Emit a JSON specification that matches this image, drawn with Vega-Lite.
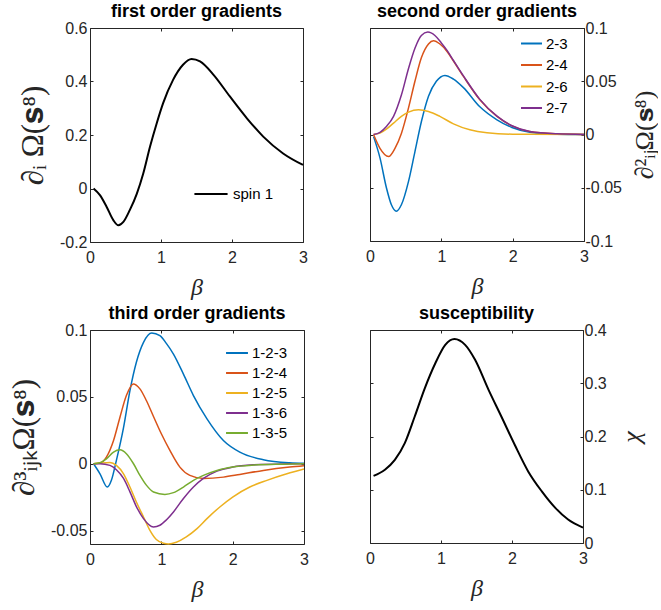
{
  "$schema": "https://vega.github.io/schema/vega-lite/v6.json",
  "padding": {"left": 8, "top": 2, "right": 0, "bottom": 0},
  "columns": 2,
  "align": "each",
  "spacing": {"row": 4, "column": 56},
  "resolve": {"scale": {"color": "independent"}, "legend": {"color": "independent"}},
  "config": {
    "view": {"stroke": "#262626", "strokeWidth": 1},
    "font": "Liberation Sans",
    "title": {"font": "Liberation Sans", "fontSize": 18, "fontWeight": "bold", "color": "#000000", "baseline": "alphabetic", "offset": -1},
    "axis": {"domain": false, "grid": false, "tickSize": -3, "tickColor": "#262626", "labelFont": "Liberation Sans", "labelFontSize": 16, "labelColor": "#262626", "labelPadding": 6, "labelFlush": false, "labelOverlap": false, "titleFont": "Liberation Serif", "titleFontWeight": "normal", "titleFontSize": 31, "titleColor": "#262626", "titlePadding": 10},
    "axisX": {"labelPadding": 10, "titleFontSize": 24},
    "legend": {"labelFont": "Liberation Sans", "labelFontSize": 15, "labelColor": "#000000", "symbolType": "stroke", "symbolStrokeWidth": 2, "rowPadding": 1.5, "labelOffset": 3, "padding": 0}
  },
  "datasets": {
    "p1": [
      {"b": 0.05, "v": 0, "s": "spin 1"}, {"b": 0.14, "v": -0.025, "s": "spin 1"}, {"b": 0.235, "v": -0.069, "s": "spin 1"}, {"b": 0.33, "v": -0.119, "s": "spin 1"}, {"b": 0.4, "v": -0.1375, "s": "spin 1"}, {"b": 0.47, "v": -0.125, "s": "spin 1"}, {"b": 0.56, "v": -0.081, "s": "spin 1"}, {"b": 0.66, "v": -0.019, "s": "spin 1"}, {"b": 0.75, "v": 0.056, "s": "spin 1"}, {"b": 0.845, "v": 0.156, "s": "spin 1"}, {"b": 0.94, "v": 0.244, "s": "spin 1"}, {"b": 1.03, "v": 0.319, "s": "spin 1"}, {"b": 1.17, "v": 0.406, "s": "spin 1"}, {"b": 1.31, "v": 0.4625, "s": "spin 1"}, {"b": 1.43, "v": 0.484, "s": "spin 1"}, {"b": 1.55, "v": 0.475, "s": "spin 1"}, {"b": 1.74, "v": 0.425, "s": "spin 1"}, {"b": 1.97, "v": 0.344, "s": "spin 1"}, {"b": 2.21, "v": 0.2625, "s": "spin 1"}, {"b": 2.44, "v": 0.194, "s": "spin 1"}, {"b": 2.72, "v": 0.131, "s": "spin 1"}, {"b": 3.0, "v": 0.088, "s": "spin 1"}
    ],
    "p2": [
      {"b": 0.05, "v": -0.002, "s": "2-3"}, {"b": 0.14, "v": -0.022, "s": "2-3"}, {"b": 0.23, "v": -0.05, "s": "2-3"}, {"b": 0.3, "v": -0.066, "s": "2-3"}, {"b": 0.37, "v": -0.072, "s": "2-3"}, {"b": 0.44, "v": -0.066, "s": "2-3"}, {"b": 0.54, "v": -0.044, "s": "2-3"}, {"b": 0.63, "v": -0.016, "s": "2-3"}, {"b": 0.72, "v": 0.012, "s": "2-3"}, {"b": 0.82, "v": 0.036, "s": "2-3"}, {"b": 0.93, "v": 0.05, "s": "2-3"}, {"b": 1.05, "v": 0.0555, "s": "2-3"}, {"b": 1.17, "v": 0.052, "s": "2-3"}, {"b": 1.31, "v": 0.044, "s": "2-3"}, {"b": 1.54, "v": 0.026, "s": "2-3"}, {"b": 1.78, "v": 0.0138, "s": "2-3"}, {"b": 1.99, "v": 0.0066, "s": "2-3"}, {"b": 2.24, "v": 0.0022, "s": "2-3"}, {"b": 2.62, "v": 0.0003, "s": "2-3"}, {"b": 3.0, "v": 0, "s": "2-3"},
      {"b": 0.05, "v": 0, "s": "2-4"}, {"b": 0.14, "v": -0.013, "s": "2-4"}, {"b": 0.26, "v": -0.0207, "s": "2-4"}, {"b": 0.35, "v": -0.013, "s": "2-4"}, {"b": 0.44, "v": 0.001, "s": "2-4"}, {"b": 0.54, "v": 0.025, "s": "2-4"}, {"b": 0.63, "v": 0.05, "s": "2-4"}, {"b": 0.72, "v": 0.072, "s": "2-4"}, {"b": 0.82, "v": 0.085, "s": "2-4"}, {"b": 0.89, "v": 0.088, "s": "2-4"}, {"b": 0.98, "v": 0.085, "s": "2-4"}, {"b": 1.08, "v": 0.078, "s": "2-4"}, {"b": 1.17, "v": 0.069, "s": "2-4"}, {"b": 1.31, "v": 0.0545, "s": "2-4"}, {"b": 1.54, "v": 0.0326, "s": "2-4"}, {"b": 1.78, "v": 0.017, "s": "2-4"}, {"b": 1.99, "v": 0.0081, "s": "2-4"}, {"b": 2.24, "v": 0.0028, "s": "2-4"}, {"b": 2.62, "v": 0.0006, "s": "2-4"}, {"b": 3.0, "v": 0, "s": "2-4"},
      {"b": 0.05, "v": 0, "s": "2-6"}, {"b": 0.14, "v": 0.0013, "s": "2-6"}, {"b": 0.23, "v": 0.005, "s": "2-6"}, {"b": 0.33, "v": 0.0107, "s": "2-6"}, {"b": 0.44, "v": 0.017, "s": "2-6"}, {"b": 0.54, "v": 0.021, "s": "2-6"}, {"b": 0.68, "v": 0.0232, "s": "2-6"}, {"b": 0.82, "v": 0.0216, "s": "2-6"}, {"b": 0.98, "v": 0.017, "s": "2-6"}, {"b": 1.17, "v": 0.01, "s": "2-6"}, {"b": 1.4, "v": 0.0044, "s": "2-6"}, {"b": 1.64, "v": 0.0016, "s": "2-6"}, {"b": 2.0, "v": 0.0003, "s": "2-6"}, {"b": 3.0, "v": 0, "s": "2-6"},
      {"b": 0.05, "v": 0, "s": "2-7"}, {"b": 0.14, "v": 0.002, "s": "2-7"}, {"b": 0.23, "v": 0.0075, "s": "2-7"}, {"b": 0.33, "v": 0.017, "s": "2-7"}, {"b": 0.44, "v": 0.037, "s": "2-7"}, {"b": 0.54, "v": 0.062, "s": "2-7"}, {"b": 0.63, "v": 0.081, "s": "2-7"}, {"b": 0.72, "v": 0.093, "s": "2-7"}, {"b": 0.81, "v": 0.0962, "s": "2-7"}, {"b": 0.91, "v": 0.093, "s": "2-7"}, {"b": 1.0, "v": 0.086, "s": "2-7"}, {"b": 1.08, "v": 0.079, "s": "2-7"}, {"b": 1.17, "v": 0.0695, "s": "2-7"}, {"b": 1.31, "v": 0.055, "s": "2-7"}, {"b": 1.54, "v": 0.033, "s": "2-7"}, {"b": 1.78, "v": 0.0172, "s": "2-7"}, {"b": 1.99, "v": 0.0082, "s": "2-7"}, {"b": 2.24, "v": 0.0028, "s": "2-7"}, {"b": 2.62, "v": 0.0006, "s": "2-7"}, {"b": 3.0, "v": 0, "s": "2-7"}
    ],
    "p3": [
      {"b": 0.05, "v": 0, "s": "1-2-3"}, {"b": 0.14, "v": -0.0075, "s": "1-2-3"}, {"b": 0.243, "v": -0.0174, "s": "1-2-3"}, {"b": 0.3, "v": -0.0124, "s": "1-2-3"}, {"b": 0.37, "v": 0.0025, "s": "1-2-3"}, {"b": 0.47, "v": 0.027, "s": "1-2-3"}, {"b": 0.56, "v": 0.0547, "s": "1-2-3"}, {"b": 0.65, "v": 0.0759, "s": "1-2-3"}, {"b": 0.75, "v": 0.0908, "s": "1-2-3"}, {"b": 0.865, "v": 0.0978, "s": "1-2-3"}, {"b": 0.98, "v": 0.0958, "s": "1-2-3"}, {"b": 1.07, "v": 0.09, "s": "1-2-3"}, {"b": 1.17, "v": 0.082, "s": "1-2-3"}, {"b": 1.31, "v": 0.067, "s": "1-2-3"}, {"b": 1.45, "v": 0.051, "s": "1-2-3"}, {"b": 1.64, "v": 0.0336, "s": "1-2-3"}, {"b": 1.87, "v": 0.0174, "s": "1-2-3"}, {"b": 2.1, "v": 0.0087, "s": "1-2-3"}, {"b": 2.43, "v": 0.003, "s": "1-2-3"}, {"b": 2.8, "v": 0.0007, "s": "1-2-3"}, {"b": 3.0, "v": 0.0003, "s": "1-2-3"},
      {"b": 0.05, "v": 0, "s": "1-2-4"}, {"b": 0.14, "v": 0.0005, "s": "1-2-4"}, {"b": 0.23, "v": 0.005, "s": "1-2-4"}, {"b": 0.33, "v": 0.0174, "s": "1-2-4"}, {"b": 0.42, "v": 0.0348, "s": "1-2-4"}, {"b": 0.51, "v": 0.051, "s": "1-2-4"}, {"b": 0.607, "v": 0.0597, "s": "1-2-4"}, {"b": 0.7, "v": 0.056, "s": "1-2-4"}, {"b": 0.79, "v": 0.0473, "s": "1-2-4"}, {"b": 0.89, "v": 0.0353, "s": "1-2-4"}, {"b": 1.0, "v": 0.0224, "s": "1-2-4"}, {"b": 1.12, "v": 0.01, "s": "1-2-4"}, {"b": 1.26, "v": -0.0025, "s": "1-2-4"}, {"b": 1.4, "v": -0.0087, "s": "1-2-4"}, {"b": 1.59, "v": -0.011, "s": "1-2-4"}, {"b": 1.87, "v": -0.01, "s": "1-2-4"}, {"b": 2.1, "v": -0.008, "s": "1-2-4"}, {"b": 2.43, "v": -0.005, "s": "1-2-4"}, {"b": 2.8, "v": -0.0025, "s": "1-2-4"}, {"b": 3.0, "v": -0.0015, "s": "1-2-4"},
      {"b": 0.05, "v": 0, "s": "1-2-5"}, {"b": 0.14, "v": 0.0005, "s": "1-2-5"}, {"b": 0.28, "v": 0.001, "s": "1-2-5"}, {"b": 0.37, "v": -0.0012, "s": "1-2-5"}, {"b": 0.47, "v": -0.0075, "s": "1-2-5"}, {"b": 0.56, "v": -0.0174, "s": "1-2-5"}, {"b": 0.65, "v": -0.0286, "s": "1-2-5"}, {"b": 0.75, "v": -0.0398, "s": "1-2-5"}, {"b": 0.84, "v": -0.0498, "s": "1-2-5"}, {"b": 0.93, "v": -0.0567, "s": "1-2-5"}, {"b": 1.03, "v": -0.0595, "s": "1-2-5"}, {"b": 1.1, "v": -0.06, "s": "1-2-5"}, {"b": 1.21, "v": -0.0587, "s": "1-2-5"}, {"b": 1.35, "v": -0.0547, "s": "1-2-5"}, {"b": 1.5, "v": -0.0485, "s": "1-2-5"}, {"b": 1.64, "v": -0.041, "s": "1-2-5"}, {"b": 1.82, "v": -0.0323, "s": "1-2-5"}, {"b": 2.0, "v": -0.0249, "s": "1-2-5"}, {"b": 2.24, "v": -0.0174, "s": "1-2-5"}, {"b": 2.48, "v": -0.0124, "s": "1-2-5"}, {"b": 2.76, "v": -0.0075, "s": "1-2-5"}, {"b": 3.0, "v": -0.004, "s": "1-2-5"},
      {"b": 0.05, "v": 0, "s": "1-3-6"}, {"b": 0.14, "v": 0, "s": "1-3-6"}, {"b": 0.28, "v": -0.0012, "s": "1-3-6"}, {"b": 0.37, "v": -0.0045, "s": "1-3-6"}, {"b": 0.47, "v": -0.011, "s": "1-3-6"}, {"b": 0.56, "v": -0.021, "s": "1-3-6"}, {"b": 0.65, "v": -0.032, "s": "1-3-6"}, {"b": 0.75, "v": -0.041, "s": "1-3-6"}, {"b": 0.89, "v": -0.0473, "s": "1-3-6"}, {"b": 0.98, "v": -0.046, "s": "1-3-6"}, {"b": 1.07, "v": -0.042, "s": "1-3-6"}, {"b": 1.17, "v": -0.036, "s": "1-3-6"}, {"b": 1.31, "v": -0.026, "s": "1-3-6"}, {"b": 1.45, "v": -0.0174, "s": "1-3-6"}, {"b": 1.59, "v": -0.011, "s": "1-3-6"}, {"b": 1.78, "v": -0.0055, "s": "1-3-6"}, {"b": 2.0, "v": -0.0025, "s": "1-3-6"}, {"b": 2.3, "v": -0.0008, "s": "1-3-6"}, {"b": 2.7, "v": -0.0001, "s": "1-3-6"}, {"b": 3.0, "v": 0, "s": "1-3-6"},
      {"b": 0.05, "v": 0, "s": "1-3-5"}, {"b": 0.14, "v": 0.0007, "s": "1-3-5"}, {"b": 0.23, "v": 0.0037, "s": "1-3-5"}, {"b": 0.33, "v": 0.0087, "s": "1-3-5"}, {"b": 0.42, "v": 0.0104, "s": "1-3-5"}, {"b": 0.51, "v": 0.0075, "s": "1-3-5"}, {"b": 0.61, "v": 0, "s": "1-3-5"}, {"b": 0.7, "v": -0.0087, "s": "1-3-5"}, {"b": 0.79, "v": -0.016, "s": "1-3-5"}, {"b": 0.89, "v": -0.0211, "s": "1-3-5"}, {"b": 1.05, "v": -0.0229, "s": "1-3-5"}, {"b": 1.17, "v": -0.0216, "s": "1-3-5"}, {"b": 1.31, "v": -0.0174, "s": "1-3-5"}, {"b": 1.45, "v": -0.0124, "s": "1-3-5"}, {"b": 1.59, "v": -0.0087, "s": "1-3-5"}, {"b": 1.78, "v": -0.005, "s": "1-3-5"}, {"b": 2.0, "v": -0.0025, "s": "1-3-5"}, {"b": 2.3, "v": -0.001, "s": "1-3-5"}, {"b": 2.7, "v": -0.0003, "s": "1-3-5"}, {"b": 3.0, "v": 0, "s": "1-3-5"}
    ],
    "p4": [
      {"b": 0.05, "v": 0.126}, {"b": 0.21, "v": 0.1375}, {"b": 0.35, "v": 0.156}, {"b": 0.49, "v": 0.1875}, {"b": 0.63, "v": 0.2375}, {"b": 0.77, "v": 0.29}, {"b": 0.92, "v": 0.3375}, {"b": 1.06, "v": 0.372}, {"b": 1.19, "v": 0.383}, {"b": 1.34, "v": 0.372}, {"b": 1.48, "v": 0.344}, {"b": 1.67, "v": 0.2875}, {"b": 1.85, "v": 0.2375}, {"b": 2.04, "v": 0.184}, {"b": 2.23, "v": 0.134}, {"b": 2.42, "v": 0.097}, {"b": 2.61, "v": 0.066}, {"b": 2.79, "v": 0.044}, {"b": 3.0, "v": 0.029}
    ]
  },
  "concat": [
    {
      "width": 213, "height": 214,
      "title": {"text": "first order gradients"},
      "data": {"name": "p1"},
      "layer": [
        {
          "mark": {"type": "line", "strokeWidth": 2, "interpolate": "monotone"},
          "encoding": {
            "x": {"field": "b", "type": "quantitative", "scale": {"domain": [0, 3], "nice": false}, "axis": {"orient": "bottom", "values": [0, 1, 2, 3], "title": "β", "titleFontStyle": "italic", "labelExpr": "'' + datum.value"}},
            "y": {"field": "v", "type": "quantitative", "scale": {"domain": [-0.2, 0.6], "nice": false}, "axis": {"orient": "left", "values": [-0.2, 0, 0.2, 0.4, 0.6], "title": "∂ᵢ Ω(𝐬⁸)", "labelExpr": "'' + datum.value"}},
            "color": {"field": "s", "type": "nominal", "scale": {"domain": ["spin 1"], "range": ["#000000"]}, "legend": {"title": null, "orient": "none", "legendX": 103, "legendY": 148, "symbolSize": 1100, "labelOffset": 4}}
          }
        },
        {
          "mark": {"type": "line", "strokeOpacity": 0},
          "encoding": {
            "x": {"field": "b", "type": "quantitative", "axis": {"orient": "top", "values": [0, 1, 2, 3], "labels": false, "title": null}},
            "y": {"field": "v", "type": "quantitative", "axis": {"orient": "right", "values": [-0.2, 0, 0.2, 0.4, 0.6], "labels": false, "title": null}},
            "detail": {"field": "s"}
          }
        }
      ],
      "resolve": {"axis": {"x": "independent", "y": "independent"}}
    },
    {
      "width": 214, "height": 213,
      "title": {"text": "second order gradients"},
      "data": {"name": "p2"},
      "layer": [
        {
          "mark": {"type": "line", "strokeWidth": 1.5, "interpolate": "monotone"},
          "encoding": {
            "x": {"field": "b", "type": "quantitative", "scale": {"domain": [0, 3], "nice": false}, "axis": {"orient": "bottom", "values": [0, 1, 2, 3], "title": "β", "titleFontStyle": "italic", "labelExpr": "'' + datum.value"}},
            "y": {"field": "v", "type": "quantitative", "scale": {"domain": [-0.1, 0.1], "nice": false}, "axis": {"orient": "right", "values": [-0.1, -0.05, 0, 0.05, 0.1], "title": "∂²ᵢⱼΩ(𝐬⁸)", "titleFontSize": 26, "titleAngle": 270, "titleBaseline": "top", "labelPadding": 4, "titlePadding": 10, "labelExpr": "'' + datum.value"}},
            "color": {"field": "s", "type": "nominal", "scale": {"domain": ["2-3", "2-4", "2-6", "2-7"], "range": ["#0072BD", "#D95319", "#EDB120", "#7E2F8E"]}, "legend": {"title": null, "orient": "none", "legendX": 150, "legendY": 4, "symbolSize": 440}}
          }
        },
        {
          "mark": {"type": "line", "strokeOpacity": 0},
          "encoding": {
            "x": {"field": "b", "type": "quantitative", "axis": {"orient": "top", "values": [0, 1, 2, 3], "labels": false, "title": null}},
            "y": {"field": "v", "type": "quantitative", "axis": {"orient": "left", "values": [-0.1, -0.05, 0, 0.05, 0.1], "labels": false, "title": null}},
            "detail": {"field": "s"}
          }
        }
      ],
      "resolve": {"axis": {"x": "independent", "y": "independent"}}
    },
    {
      "width": 214, "height": 214,
      "title": {"text": "third order gradients"},
      "data": {"name": "p3"},
      "layer": [
        {
          "mark": {"type": "line", "strokeWidth": 1.5, "interpolate": "monotone"},
          "encoding": {
            "x": {"field": "b", "type": "quantitative", "scale": {"domain": [0, 3], "nice": false}, "axis": {"orient": "bottom", "values": [0, 1, 2, 3], "title": "β", "titleFontStyle": "italic", "labelExpr": "'' + datum.value"}},
            "y": {"field": "v", "type": "quantitative", "scale": {"domain": [-0.06, 0.1], "nice": false}, "axis": {"orient": "left", "values": [-0.05, 0, 0.05, 0.1], "title": "∂³ᵢⱼₖΩ(𝐬⁸)", "labelExpr": "'' + datum.value"}},
            "color": {"field": "s", "type": "nominal", "scale": {"domain": ["1-2-3", "1-2-4", "1-2-5", "1-3-6", "1-3-5"], "range": ["#0072BD", "#D95319", "#EDB120", "#7E2F8E", "#77AC30"]}, "legend": {"title": null, "orient": "none", "legendX": 135, "legendY": 11, "symbolSize": 480, "rowPadding": -0.5}}
          }
        },
        {
          "mark": {"type": "line", "strokeOpacity": 0},
          "encoding": {
            "x": {"field": "b", "type": "quantitative", "axis": {"orient": "top", "values": [0, 1, 2, 3], "labels": false, "title": null}},
            "y": {"field": "v", "type": "quantitative", "axis": {"orient": "right", "values": [-0.05, 0, 0.05, 0.1], "labels": false, "title": null}},
            "detail": {"field": "s"}
          }
        }
      ],
      "resolve": {"axis": {"x": "independent", "y": "independent"}}
    },
    {
      "width": 213, "height": 213,
      "title": {"text": "susceptibility"},
      "data": {"name": "p4"},
      "layer": [
        {
          "mark": {"type": "line", "strokeWidth": 2, "color": "#000000", "interpolate": "monotone"},
          "encoding": {
            "x": {"field": "b", "type": "quantitative", "scale": {"domain": [0, 3], "nice": false}, "axis": {"orient": "bottom", "values": [0, 1, 2, 3], "title": "β", "titleFontStyle": "italic", "labelExpr": "'' + datum.value"}},
            "y": {"field": "v", "type": "quantitative", "scale": {"domain": [0, 0.4], "nice": false}, "axis": {"orient": "right", "values": [0, 0.1, 0.2, 0.3, 0.4], "title": "χ", "titleFontSize": 26, "titleFontStyle": "italic", "titleAngle": 270, "titleBaseline": "top", "labelPadding": 4, "titlePadding": 12, "labelExpr": "'' + datum.value"}}
          }
        },
        {
          "mark": {"type": "line", "strokeOpacity": 0},
          "encoding": {
            "x": {"field": "b", "type": "quantitative", "axis": {"orient": "top", "values": [0, 1, 2, 3], "labels": false, "title": null}},
            "y": {"field": "v", "type": "quantitative", "axis": {"orient": "left", "values": [0, 0.1, 0.2, 0.3, 0.4], "labels": false, "title": null}}
          }
        }
      ],
      "resolve": {"axis": {"x": "independent", "y": "independent"}}
    }
  ]
}
